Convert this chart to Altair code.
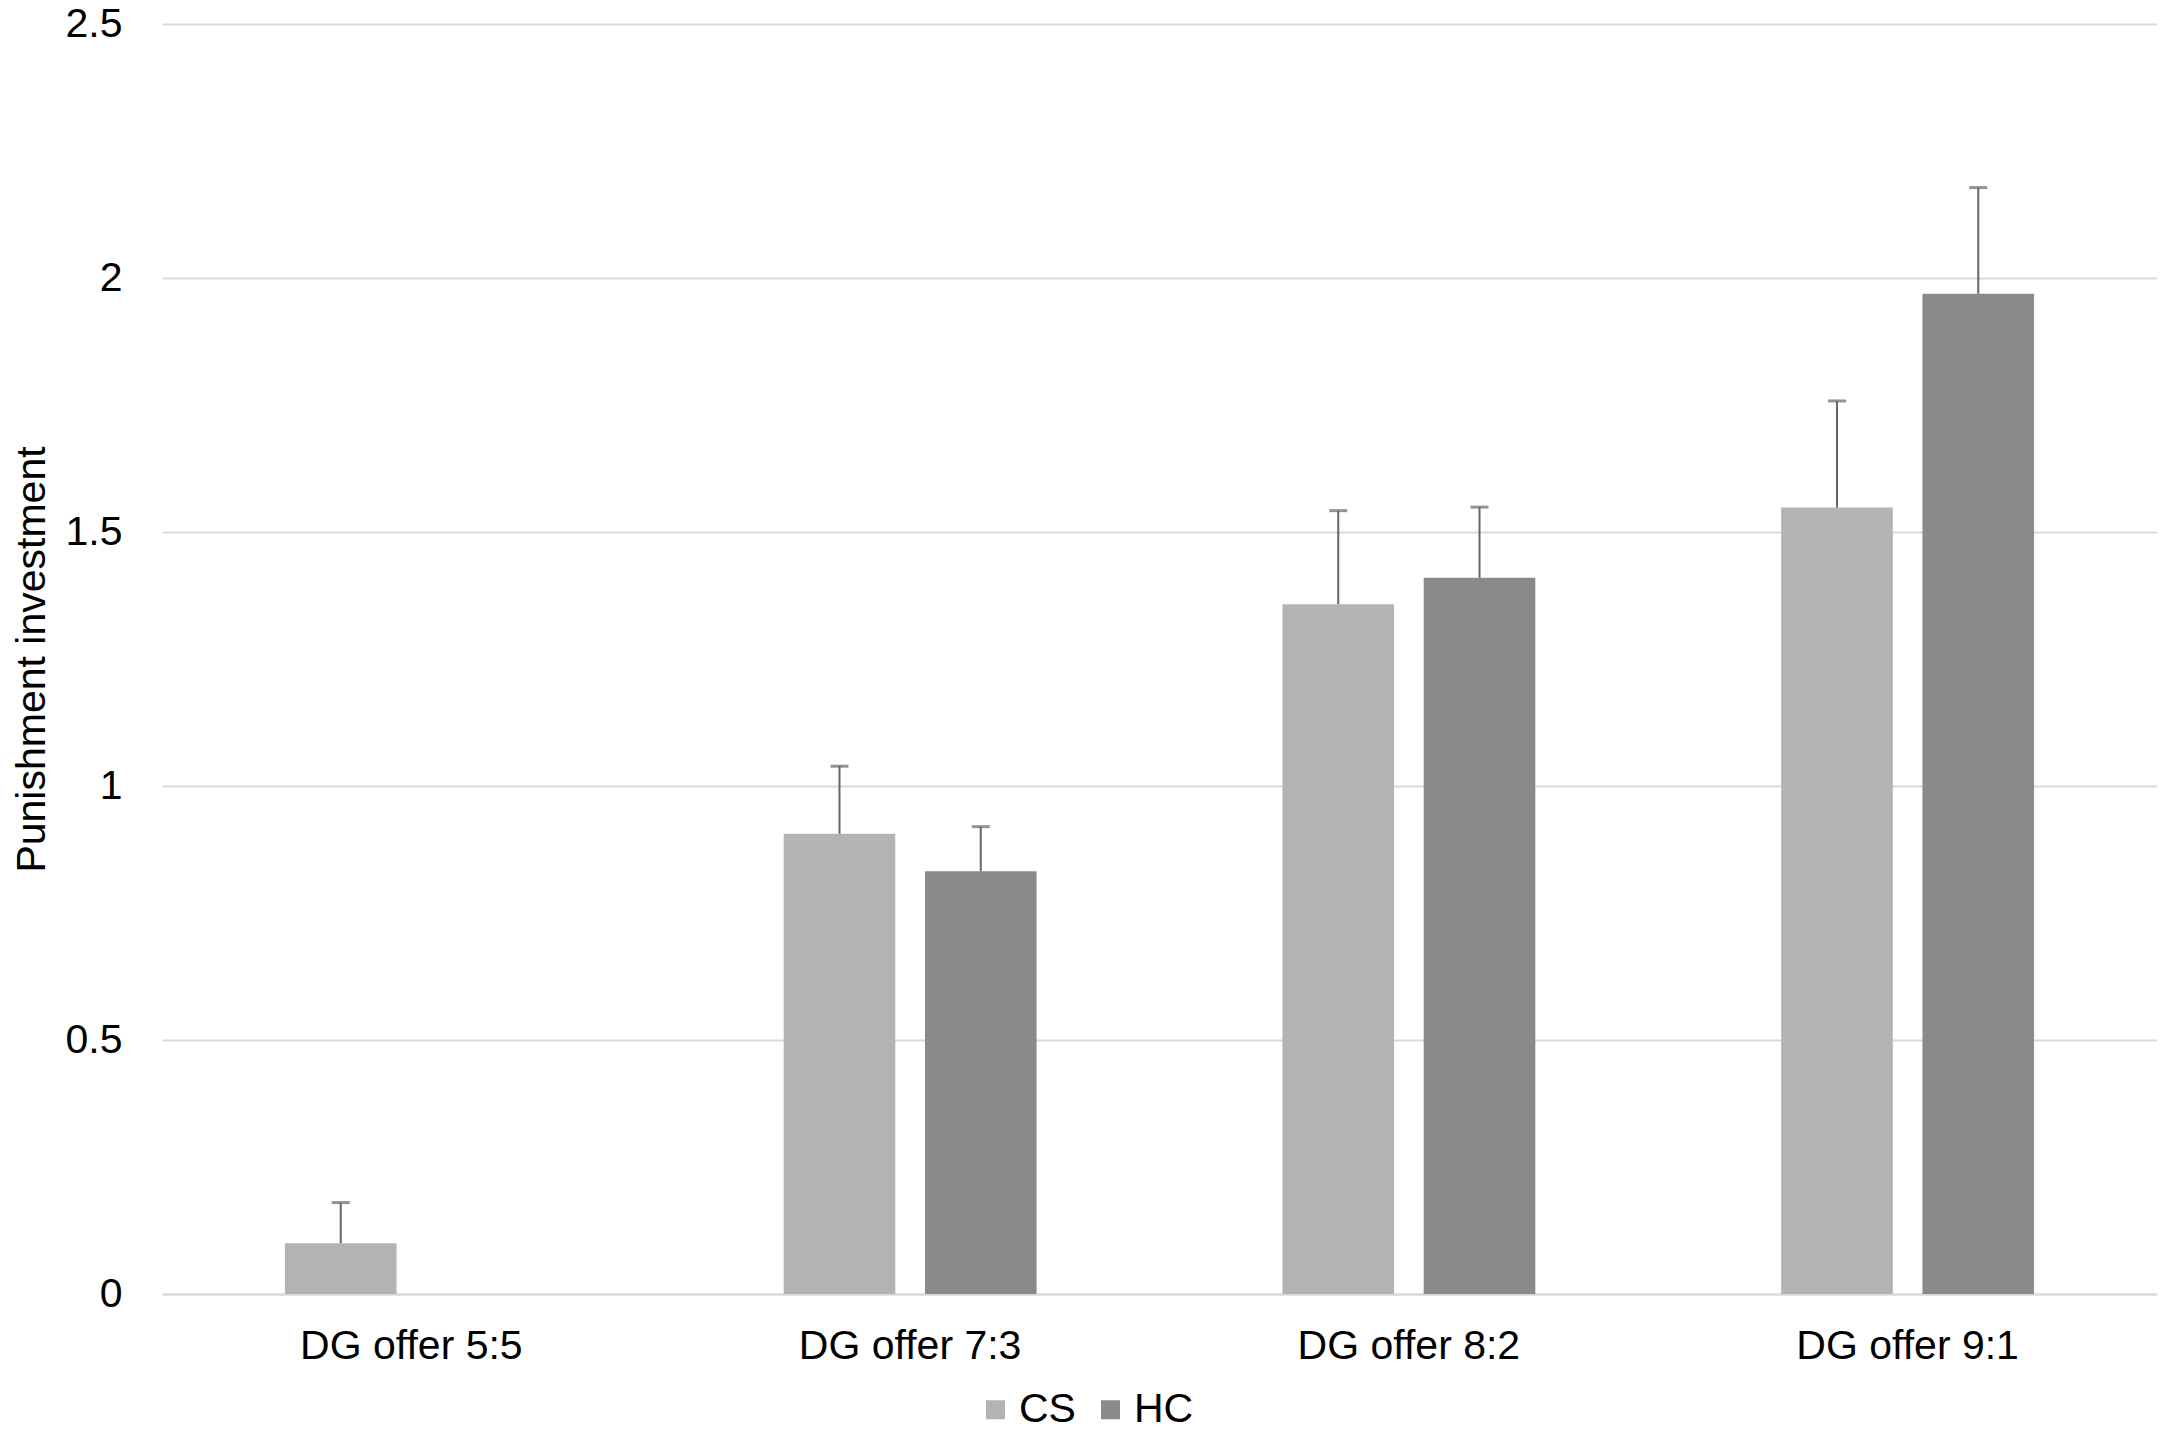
import altair as alt
import pandas as pd

categories = ["DG offer 5:5", "DG offer 7:3", "DG offer 8:2", "DG offer 9:1"]
groups = ["CS", "HC"]
cs_values = [0.10, 0.906, 1.358, 1.548]
cs_upper = [0.18, 1.039, 1.542, 1.758]
hc_values = [0.0, 0.832, 1.410, 1.969]
hc_upper = [None, 0.920, 1.549, 2.178]

rows = []
for i, c in enumerate(categories):
    rows.append({"cat": c, "grp": "CS", "val": cs_values[i], "up": cs_upper[i]})
    rows.append({"cat": c, "grp": "HC", "val": hc_values[i], "up": hc_upper[i]})
df = pd.DataFrame(rows)

FONT = "Liberation Sans"

x_enc = alt.X("cat:N", sort=categories, title=None,
              scale=alt.Scale(paddingInner=0.493, paddingOuter=0.2465),
              axis=alt.Axis(labelAngle=0, labelFontSize=41, labelFont=FONT, labelColor="#000000",
                            labelLimit=0, ticks=False, domain=True, domainColor="#d9d9d9", domainWidth=2,
                            labelPadding=32, grid=False))
xoff = alt.XOffset("grp:N", sort=groups, scale=alt.Scale(paddingInner=0.21, paddingOuter=0))
y_scale = alt.Scale(domain=[0, 2.5], nice=False)

bars = alt.Chart(df).mark_bar().encode(
    x=x_enc,
    xOffset=xoff,
    y=alt.Y("val:Q", scale=y_scale, title="Punishment investment",
            axis=alt.Axis(values=[0, 0.5, 1, 1.5, 2, 2.5], labelExpr="datum.value == 0 ? '0' : format(datum.value, '~g')",
                          labelFontSize=41, labelFont=FONT, labelColor="#000000",
                          titleFontSize=41, titleFont=FONT, titleFontWeight="normal", titleColor="#000000",
                          titlePadding=12, labelPadding=40, ticks=False, domain=False,
                          grid=True, gridColor="#d9d9d9", gridWidth=2)),
    color=alt.Color("grp:N", sort=groups, title=None,
                    scale=alt.Scale(domain=groups, range=["#b3b3b3", "#8a8a8a"]),
                    legend=alt.Legend(orient="none", legendX=813, legendY=1365, direction="horizontal",
                                      symbolType="square", symbolSize=361, symbolStrokeWidth=0,
                                      labelFontSize=41, labelFont=FONT, labelColor="#000000",
                                      labelOffset=3, columnPadding=14)),
)

err_df = df[df["up"].notna()]
rules = alt.Chart(err_df).mark_rule(color="#666666", strokeWidth=2).encode(
    x=alt.X("cat:N", sort=categories),
    xOffset=xoff,
    y="val:Q",
    y2="up:Q",
)
caps = alt.Chart(err_df).mark_tick(color="#666666", thickness=3, size=18).encode(
    x=alt.X("cat:N", sort=categories),
    xOffset=xoff,
    y="up:Q",
)

chart = alt.layer(bars, rules, caps).properties(
    width=1995, height=1270,
    background="#ffffff",
    padding={"left": 154, "top": 16, "right": 0, "bottom": 139},
    autosize=alt.AutoSizeParams(type="none"),
).configure_view(strokeWidth=0)

chart.save("out.html", embed_options={"renderer": "svg", "actions": False})
